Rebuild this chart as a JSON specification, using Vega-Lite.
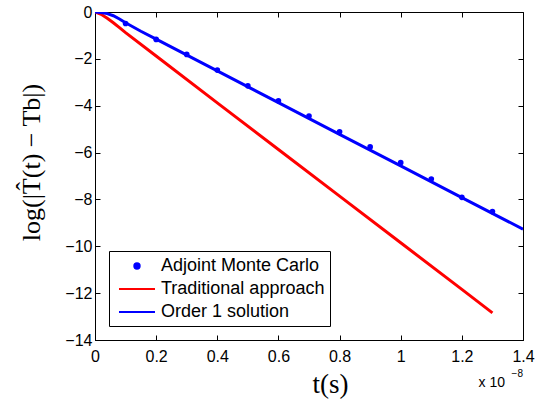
{
  "$schema": "https://vega.github.io/schema/vega-lite/v6.json",
  "width": 428,
  "height": 328,
  "autosize": {"type": "none"},
  "padding": {"left": 95, "top": 12, "right": 13, "bottom": 63},
  "background": "#ffffff",
  "config": {
    "view": {"stroke": "#000000", "strokeWidth": 1},
    "font": "Liberation Sans",
    "axis": {
      "grid": false,
      "labelFont": "Liberation Sans",
      "labelFontSize": 16,
      "labelColor": "#000000",
      "tickColor": "#000000",
      "domainColor": "#000000",
      "tickSize": -5,
      "tickWidth": 1,
      "domainWidth": 1
    }
  },
  "datasets": {
    "pts": [
      {"t": 0.1, "v": -0.49, "series": "Adjoint Monte Carlo"},
      {"t": 0.2, "v": -1.17, "series": "Adjoint Monte Carlo"},
      {"t": 0.3, "v": -1.81, "series": "Adjoint Monte Carlo"},
      {"t": 0.4, "v": -2.48, "series": "Adjoint Monte Carlo"},
      {"t": 0.5, "v": -3.15, "series": "Adjoint Monte Carlo"},
      {"t": 0.6, "v": -3.79, "series": "Adjoint Monte Carlo"},
      {"t": 0.7, "v": -4.44, "series": "Adjoint Monte Carlo"},
      {"t": 0.8, "v": -5.11, "series": "Adjoint Monte Carlo"},
      {"t": 0.9, "v": -5.76, "series": "Adjoint Monte Carlo"},
      {"t": 1.0, "v": -6.43, "series": "Adjoint Monte Carlo"},
      {"t": 1.1, "v": -7.13, "series": "Adjoint Monte Carlo"},
      {"t": 1.2, "v": -7.91, "series": "Adjoint Monte Carlo"},
      {"t": 1.3, "v": -8.52, "series": "Adjoint Monte Carlo"}
    ],
    "lines": [
      {"t": 0, "v": 0, "series": "Traditional approach"},
      {"t": 0.02, "v": -0.1, "series": "Traditional approach"},
      {"t": 0.04, "v": -0.27, "series": "Traditional approach"},
      {"t": 0.06, "v": -0.46, "series": "Traditional approach"},
      {"t": 0.08, "v": -0.67, "series": "Traditional approach"},
      {"t": 0.1, "v": -0.88, "series": "Traditional approach"},
      {"t": 0.2, "v": -1.88, "series": "Traditional approach"},
      {"t": 0.4, "v": -3.88, "series": "Traditional approach"},
      {"t": 0.6, "v": -5.87, "series": "Traditional approach"},
      {"t": 0.8, "v": -7.86, "series": "Traditional approach"},
      {"t": 1.0, "v": -9.85, "series": "Traditional approach"},
      {"t": 1.2, "v": -11.84, "series": "Traditional approach"},
      {"t": 1.3, "v": -12.84, "series": "Traditional approach"},
      {"t": 0, "v": 0, "series": "Order 1 solution"},
      {"t": 0.02, "v": -0.02, "series": "Order 1 solution"},
      {"t": 0.04, "v": -0.07, "series": "Order 1 solution"},
      {"t": 0.06, "v": -0.16, "series": "Order 1 solution"},
      {"t": 0.08, "v": -0.3, "series": "Order 1 solution"},
      {"t": 0.1, "v": -0.46, "series": "Order 1 solution"},
      {"t": 0.15, "v": -0.82, "series": "Order 1 solution"},
      {"t": 0.2, "v": -1.16, "series": "Order 1 solution"},
      {"t": 0.4, "v": -2.51, "series": "Order 1 solution"},
      {"t": 0.6, "v": -3.87, "series": "Order 1 solution"},
      {"t": 0.8, "v": -5.22, "series": "Order 1 solution"},
      {"t": 1.0, "v": -6.57, "series": "Order 1 solution"},
      {"t": 1.2, "v": -7.92, "series": "Order 1 solution"},
      {"t": 1.4, "v": -9.27, "series": "Order 1 solution"}
    ],
    "note": [
      {"t": 1.4, "v": -14, "base": "x 10", "exp": "−8"}
    ]
  },
  "layer": [
    {
      "data": {"name": "lines"},
      "mark": {"type": "line", "strokeWidth": 3, "clip": true},
      "encoding": {
        "x": {
          "field": "t", "type": "quantitative",
          "scale": {"domain": [0, 1.4], "nice": false, "zero": false},
          "axis": {
            "orient": "bottom",
            "values": [0, 0.2, 0.4, 0.6, 0.8, 1, 1.2, 1.4],
            "format": "~g",
            "labelPadding": 13,
            "labelFlush": false,
            "title": "t(s)",
            "titleFont": "Liberation Serif",
            "titleFontSize": 27,
            "titleFontWeight": "normal",
            "titleColor": "#000000",
            "titleX": 235,
            "titleY": 52,
            "titleBaseline": "alphabetic"
          }
        },
        "y": {
          "field": "v", "type": "quantitative",
          "scale": {"domain": [-14, 0], "nice": false, "zero": false},
          "axis": {
            "orient": "left",
            "values": [0, -2, -4, -6, -8, -10, -12, -14],
            "labelPadding": 8,
            "labelFlush": false,
            "title": "log(|T̂(t) − Tb|)",
            "titleFont": "Liberation Serif",
            "titleFontSize": 26,
            "titleFontWeight": "normal",
            "titleColor": "#000000",
            "titleX": -64,
            "titleY": 150,
            "titleBaseline": "middle"
          }
        },
        "color": {
          "field": "series", "type": "nominal",
          "scale": {
            "domain": ["Adjoint Monte Carlo", "Traditional approach", "Order 1 solution"],
            "range": ["#0000ff", "#ff0000", "#0000ff"]
          },
          "legend": {
            "title": null,
            "orient": "bottom-left",
            "offset": 14,
            "fillColor": "#ffffff",
            "strokeColor": "#000000",
            "padding": 5,
            "labelFont": "Liberation Sans",
            "labelFontSize": 18,
            "labelColor": "#000000",
            "labelOffset": 27,
            "labelLimit": 400,
            "symbolSize": 324,
            "symbolStrokeWidth": 2,
            "rowPadding": 4,
            "encode": {
              "symbols": {
                "update": {
                  "shape": {"signal": "(datum.value === 'Adjoint Monte Carlo' ? 'M1.144,0A0.3,0.3,0,1,0,1.744,0A0.3,0.3,0,1,0,1.144,0Z' : 'M-0.556,0H3.444')"},
                  "size": {"value": 324},
                  "fill": {"signal": "(datum.value === 'Adjoint Monte Carlo' ? '#0000ff' : 'transparent')"},
                  "stroke": {"signal": "(datum.value === 'Traditional approach' ? '#ff0000' : datum.value === 'Order 1 solution' ? '#0000ff' : 'transparent')"},
                  "strokeWidth": {"value": 2},
                  "opacity": {"value": 1}
                }
              }
            }
          }
        }
      }
    },
    {
      "data": {"name": "pts"},
      "mark": {"type": "point", "filled": true, "shape": "circle", "size": 32, "opacity": 1},
      "encoding": {
        "x": {
          "field": "t", "type": "quantitative",
          "axis": {"orient": "top", "values": [0, 0.2, 0.4, 0.6, 0.8, 1, 1.2, 1.4], "labels": false, "title": null, "domain": false}
        },
        "y": {
          "field": "v", "type": "quantitative",
          "axis": {"orient": "right", "values": [0, -2, -4, -6, -8, -10, -12, -14], "labels": false, "title": null, "domain": false}
        },
        "color": {"field": "series", "type": "nominal"}
      }
    },
    {
      "data": {"name": "note"},
      "mark": {"type": "text", "align": "right", "baseline": "alphabetic", "dy": 47, "dx": -18, "fontSize": 14, "font": "Liberation Sans", "color": "#000000", "clip": false},
      "encoding": {
        "x": {"field": "t", "type": "quantitative", "axis": null},
        "y": {"field": "v", "type": "quantitative", "axis": null},
        "text": {"field": "base"}
      }
    },
    {
      "data": {"name": "note"},
      "mark": {"type": "text", "align": "right", "baseline": "alphabetic", "dy": 37, "dx": 0, "fontSize": 10, "font": "Liberation Sans", "color": "#000000", "clip": false},
      "encoding": {
        "x": {"field": "t", "type": "quantitative", "axis": null},
        "y": {"field": "v", "type": "quantitative", "axis": null},
        "text": {"field": "exp"}
      }
    }
  ],
  "resolve": {"axis": {"x": "independent", "y": "independent"}}
}
